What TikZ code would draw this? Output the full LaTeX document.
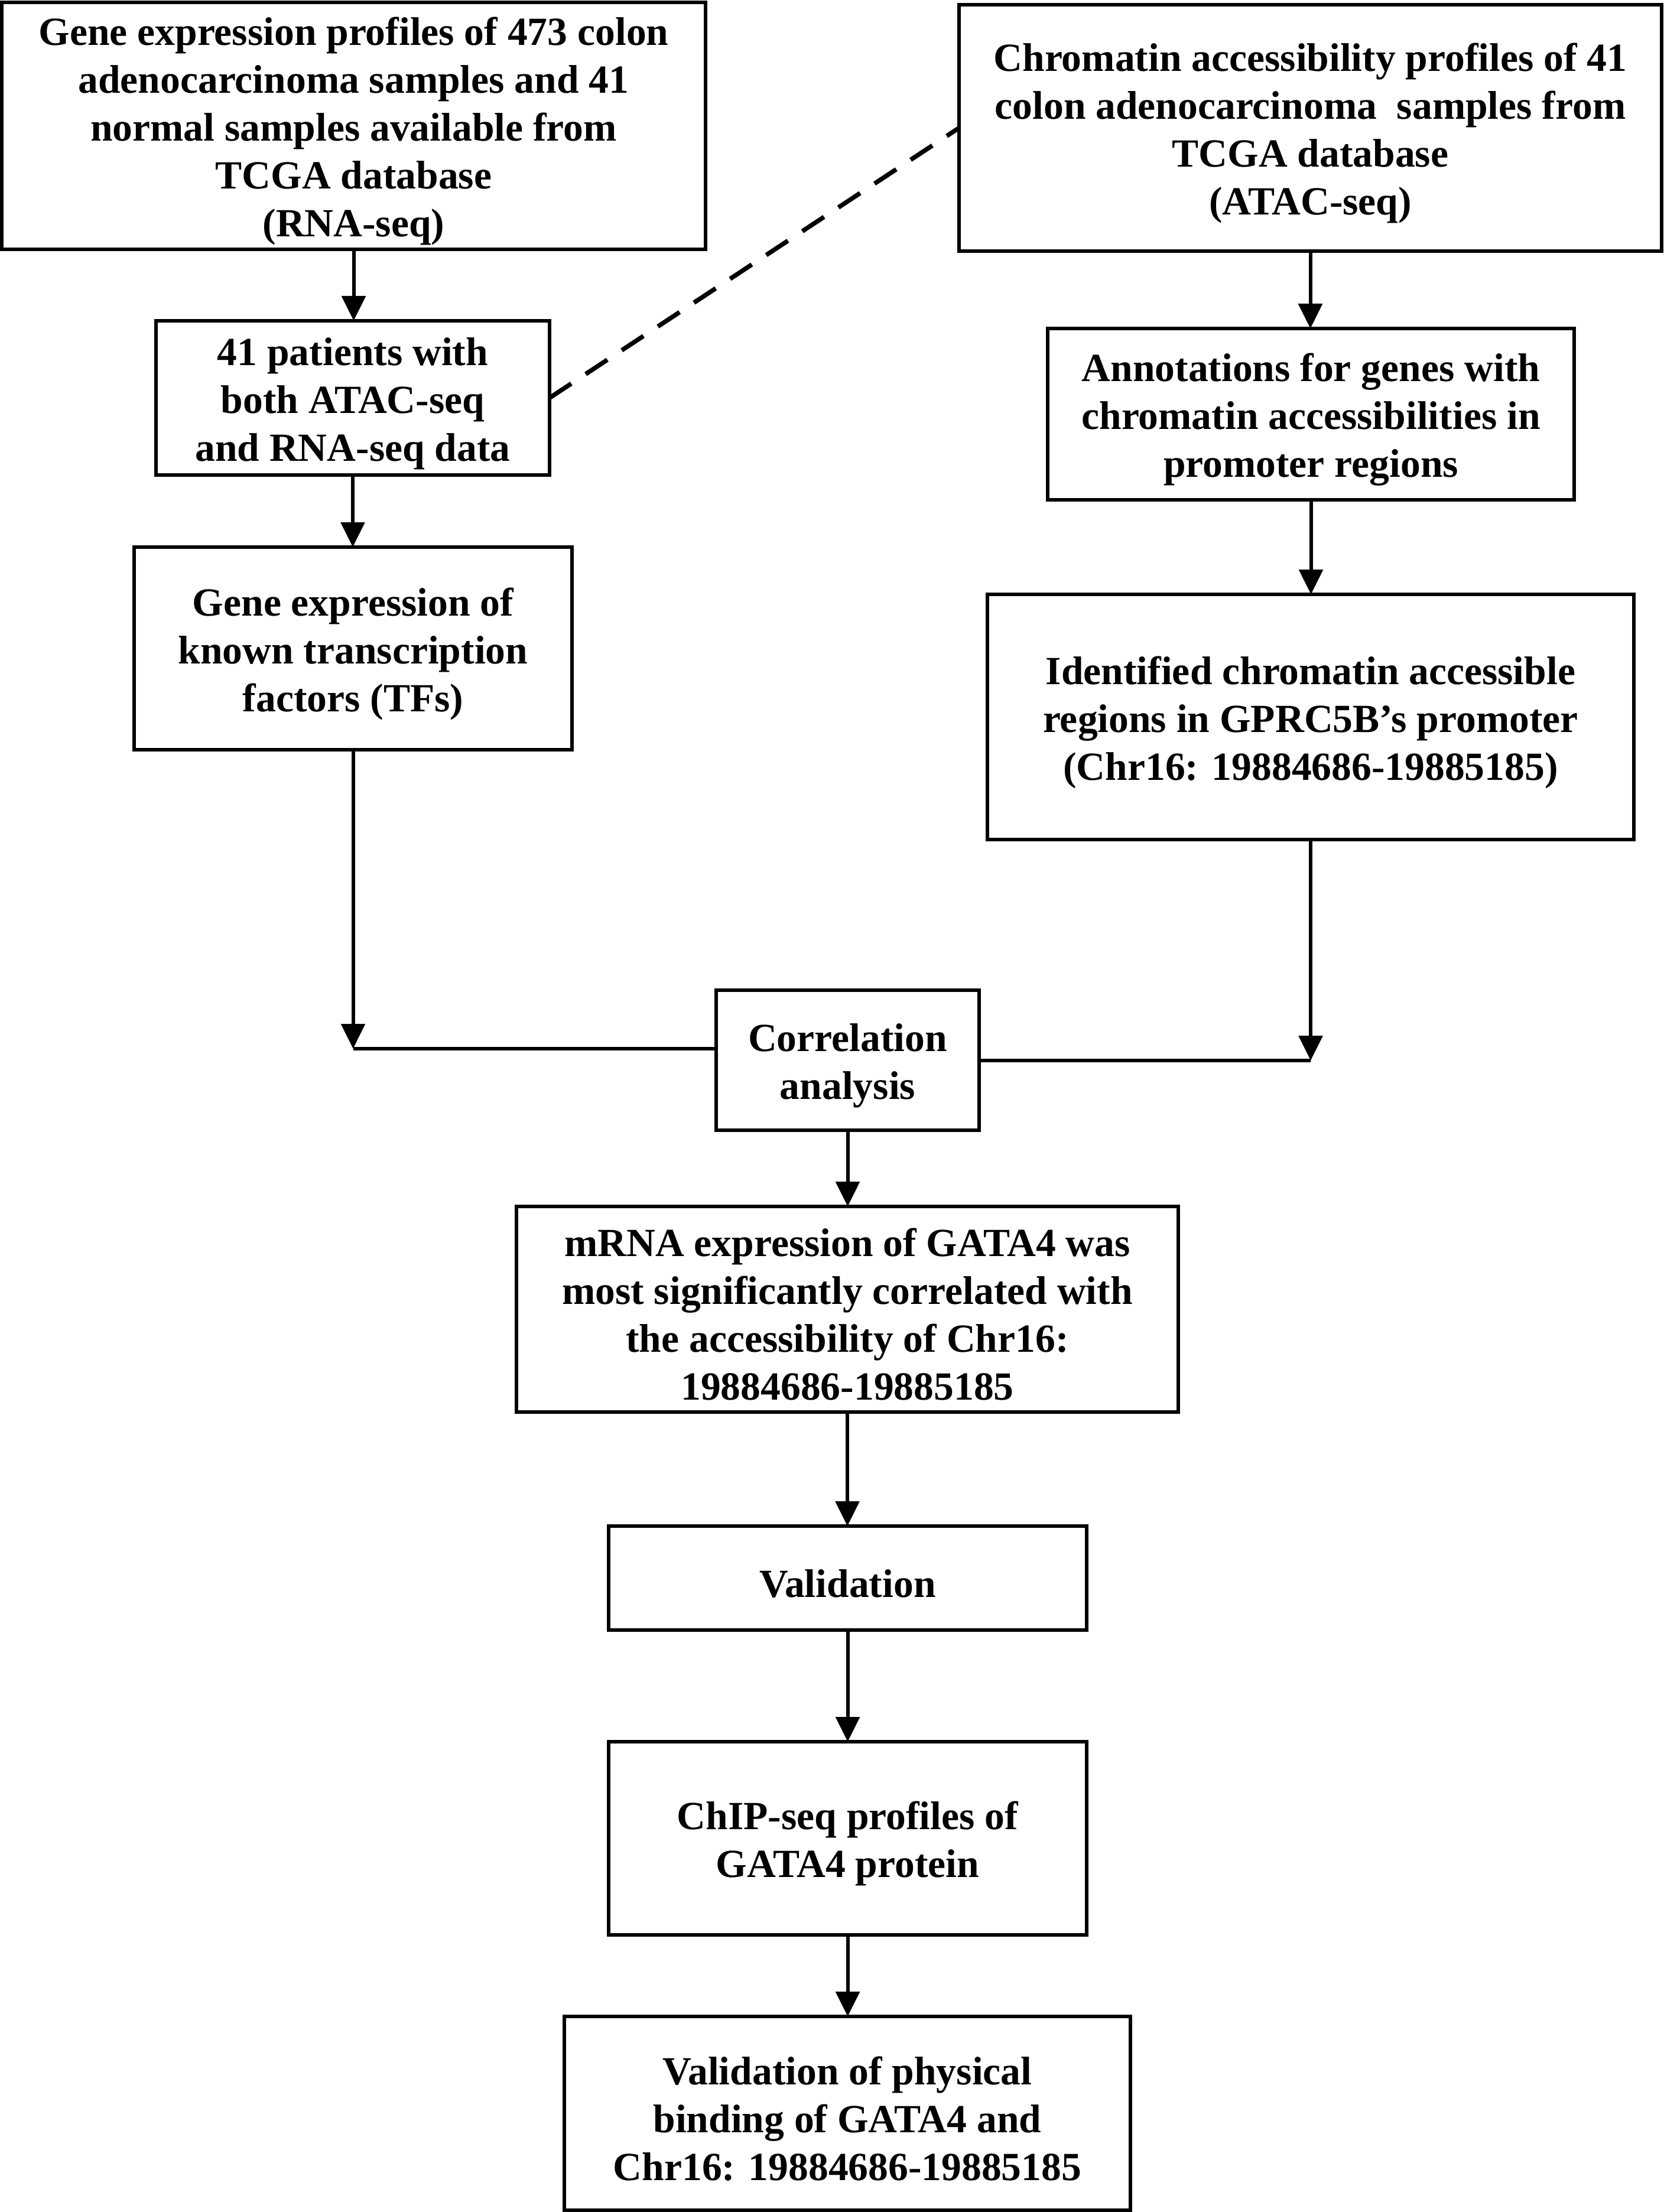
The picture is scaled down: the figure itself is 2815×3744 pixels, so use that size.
\documentclass[tikz,border=0pt]{standalone}
\usepackage{fontspec}
\setmainfont{Liberation Serif}
\usetikzlibrary{arrows.meta}
\newcommand{\tstrut}{\rule{0pt}{16.4pt}}
\begin{document}
\begin{tikzpicture}[x=0.25pt,y=-0.25pt]
\tikzset{
  box/.style={draw, line width=1.5pt, inner sep=0pt, outer sep=0pt, align=center,
    font=\fontsize{16.9pt}{20.25pt}\selectfont\bfseries},
  arr/.style={line width=1.5pt, -{Triangle[width=10pt,length=10.5pt]}},
  conn/.style={line width=1.5pt},
  dashln/.style={line width=1.9pt, dash pattern=on 11pt off 7.3pt},
}
\useasboundingbox (0,0) rectangle (2815,3744);

\node[box, minimum width=297.75pt, minimum height=104.5pt] (b1) at (598.5,213)
  {\tstrut Gene expression profiles of 473 colon\\adenocarcinoma samples and 41\\normal samples available from\\TCGA database\\(RNA-seq)};
\node[box, minimum width=297.25pt, minimum height=104.25pt] (b3) at (2217.5,216.5)
  {\tstrut Chromatin accessibility profiles of 41\\colon adenocarcinoma\ \ samples from\\TCGA database\\(ATAC-seq)};
\node[box, minimum width=166.5pt, minimum height=65.25pt] (b2) at (597,673.5)
  {\tstrut 41 patients with\\both ATAC-seq\\and RNA-seq data};
\node[box, minimum width=222.75pt, minimum height=72.5pt] (b4) at (2218.5,701)
  {\tstrut Annotations for genes with\\chromatin accessibilities in\\promoter regions};
\node[box, minimum width=185.25pt, minimum height=85.75pt] (b5) at (597.5,1097.5)
  {\tstrut Gene expression of\\known transcription\\factors (TFs)};
\node[box, minimum width=273.5pt, minimum height=103.75pt] (b6) at (2218,1213.5)
  {\tstrut Identified chromatin accessible\\regions in GPRC5B’s promoter\\(Chr16: 19884686-19885185)};
\node[box, minimum width=111.25pt, minimum height=59.25pt] (corr) at (1434.5,1794.5)
  {\tstrut Correlation\\analysis};
\node[box, minimum width=280pt, minimum height=87pt] (mrna) at (1434,2216)
  {\tstrut mRNA expression of GATA4 was\\most significantly correlated with\\the accessibility of Chr16:\\19884686-19885185};
\node[box, minimum width=202.25pt, minimum height=44pt] (valid) at (1434.5,2671)
  {\tstrut Validation};
\node[box, minimum width=202.25pt, minimum height=81.75pt] (chip) at (1434.5,3111.5)
  {\tstrut ChIP-seq profiles of\\GATA4 protein};
\node[box, minimum width=239.5pt, minimum height=82pt] (bind) at (1434,3577)
  {\tstrut Validation of physical\\binding of GATA4 and\\Chr16: 19884686-19885185};

\coordinate (cl) at (598,1775);
\coordinate (cr) at (2217,1795);

\draw[arr] (b1.south) -- (b1.south |- b2.north);
\draw[arr] (b2.south) -- (b2.south |- b5.north);
\draw[arr] (b3.south) -- (b3.south |- b4.north);
\draw[arr] (b4.south) -- (b4.south |- b6.north);
\draw[arr] (b5.south) -- (b5.south |- cl);
\draw[conn] (b5.south |- cl) -- (cl -| corr.west);
\draw[arr] (b6.south) -- (b6.south |- cr);
\draw[conn] (corr.east |- cr) -- (b6.south |- cr);
\draw[arr] (corr.south) -- (corr.south |- mrna.north);
\draw[arr] (mrna.south) -- (mrna.south |- valid.north);
\draw[arr] (valid.south) -- (valid.south |- chip.north);
\draw[arr] (chip.south) -- (chip.south |- bind.north);
\draw[dashln] (b2.east) -- (b3.west);
\end{tikzpicture}
\end{document}
